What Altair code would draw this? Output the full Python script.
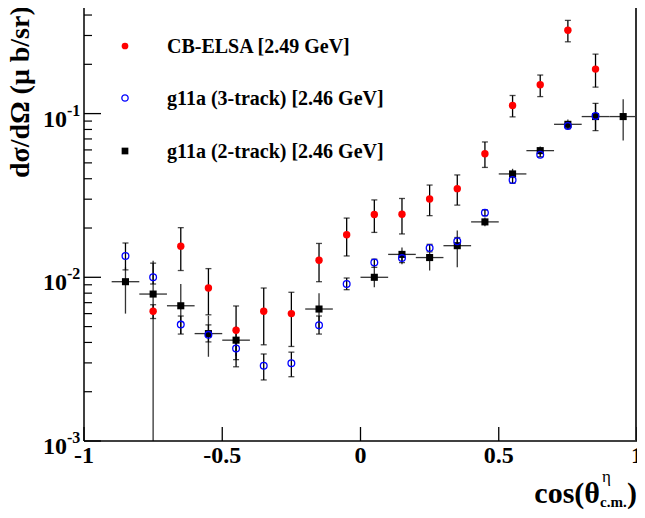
import altair as alt
import pandas as pd

# ---- data ----
x_cb = [-0.75, -0.65, -0.55, -0.45, -0.35, -0.25, -0.15, -0.05, 0.05, 0.15, 0.25, 0.35, 0.45, 0.55, 0.65, 0.75, 0.85]
y_cb = [0.0062, 0.0155, 0.0086, 0.00475, 0.0062, 0.0060, 0.0127, 0.0182, 0.0242, 0.0243, 0.0301, 0.0348, 0.0569, 0.112, 0.150, 0.323, 0.187]
lo_cb = [0.0056, 0.0110, 0.0059, 0.00284, 0.00387, 0.00378, 0.0094, 0.0135, 0.0188, 0.0184, 0.0238, 0.0276, 0.0469, 0.0955, 0.127, 0.2745, 0.145]
hi_cb = [0.0068, 0.0201, 0.0113, 0.00668, 0.0086, 0.0081, 0.0161, 0.0230, 0.0297, 0.0303, 0.0366, 0.0422, 0.0671, 0.129, 0.172, 0.371, 0.231]

x_3t = [-0.85, -0.75, -0.65, -0.55, -0.45, -0.35, -0.25, -0.15, -0.05, 0.05, 0.15, 0.25, 0.35, 0.45, 0.55, 0.65, 0.75, 0.85]
y_3t = [0.0135, 0.0100, 0.00514, 0.00445, 0.00367, 0.00288, 0.00299, 0.0051, 0.0091, 0.0123, 0.0131, 0.0151, 0.0166, 0.0248, 0.0393, 0.0561, 0.0841, 0.0968]
lo_3t = [0.0111, 0.0091, 0.0045, 0.00403, 0.00314, 0.00236, 0.00247, 0.0045, 0.0084, 0.0115, 0.0123, 0.0143, 0.0157, 0.0238, 0.0375, 0.0545, 0.0810, 0.0787]
hi_3t = [0.0162, 0.0122, 0.0058, 0.00512, 0.00409, 0.0034, 0.00349, 0.0058, 0.0099, 0.0129, 0.0139, 0.0159, 0.0175, 0.0258, 0.0411, 0.0577, 0.0872, 0.1156]

x_2t = [-0.85, -0.75, -0.65, -0.55, -0.45, -0.15, 0.05, 0.15, 0.25, 0.35, 0.45, 0.55, 0.65, 0.75, 0.85, 0.95]
y_2t = [0.0094, 0.0079, 0.0067, 0.00453, 0.00413, 0.0064, 0.0100, 0.0138, 0.0132, 0.0156, 0.0218, 0.0428, 0.0594, 0.0860, 0.0959, 0.0959]
lo_2t = [0.0060, 0.001, 0.0045, 0.00327, 0.0033, 0.0048, 0.0087, 0.0120, 0.0110, 0.0115, 0.0205, 0.0400, 0.0560, 0.0800, 0.0790, 0.0684]
hi_2t = [0.0115, 0.0126, 0.0091, 0.00582, 0.0050, 0.0080, 0.0118, 0.0152, 0.0152, 0.0193, 0.0232, 0.0460, 0.0630, 0.0920, 0.1150, 0.1223]
half_bin = 0.05

x_ticks = [-1, -0.5, 0, 0.5, 1]
x_tick_labels = ["-1", "-0.5", "0", "0.5", "1"]
y_major = [0.001, 0.01, 0.1]
y_major_exp = ["-3", "-2", "-1"]
y_minor = [0.002, 0.003, 0.004, 0.005, 0.006, 0.007, 0.008, 0.009,
           0.02, 0.03, 0.04, 0.05, 0.06, 0.07, 0.08, 0.09,
           0.2, 0.3, 0.4]

legend_labels = ["CB-ELSA [2.49 GeV]", "g11a (3-track) [2.46 GeV]", "g11a (2-track) [2.46 GeV]"]
y_title = "dσ/dΩ (μ b/sr)"

# ---- layout ----
W, H = 553, 433
FONT = "Liberation Serif"

xs = alt.Scale(domain=[-1, 1], nice=False, zero=False)
ys = alt.Scale(type="log", domain=[0.001, 0.4416], nice=False, clamp=True)

cb = pd.DataFrame({"x": x_cb, "y": y_cb, "lo": lo_cb, "hi": hi_cb})
t3 = pd.DataFrame({"x": x_3t, "y": y_3t, "lo": lo_3t, "hi": hi_3t})
t2 = pd.DataFrame({"x": x_2t, "y": y_2t, "lo": lo_2t, "hi": hi_2t})
t2["xl"] = t2["x"] - half_bin
t2["xr"] = t2["x"] + half_bin

one = pd.DataFrame({"a": [0]})

X = lambda f: alt.X(f, scale=xs, axis=None)
Y = lambda f: alt.Y(f, scale=ys, axis=None)

layers = []

# 2-track error bars (no caps)
layers.append(alt.Chart(t2).mark_rule(color="#333333", strokeWidth=1.3).encode(
    x=X("x:Q"), y=Y("lo:Q"), y2="hi:Q"))
layers.append(alt.Chart(t2).mark_rule(color="#333333", strokeWidth=1.3).encode(
    x=X("xl:Q"), x2="xr:Q", y=Y("y:Q")))

# capped error bars
for df in (cb, t3):
    layers.append(alt.Chart(df).mark_errorbar(ticks={"size": 6}, color="black", thickness=1.3).encode(
        x=X("x:Q"), y=Y("lo:Q"), y2="hi:Q"))

# markers
layers.append(alt.Chart(cb).mark_point(shape="circle", filled=True, color="#ff0000", size=55, opacity=1).encode(
    x=X("x:Q"), y=Y("y:Q")))
layers.append(alt.Chart(t2).mark_point(shape="square", filled=True, color="black", size=50, opacity=1).encode(
    x=X("x:Q"), y=Y("y:Q")))
layers.append(alt.Chart(t3).mark_point(shape="circle", filled=False, color="#0000ff", size=45, strokeWidth=1.3, opacity=1).encode(
    x=X("x:Q"), y=Y("y:Q")))

# frame
layers.append(alt.Chart(one).mark_rule(color="black", strokeWidth=1.5).encode(
    x=alt.value(0), y=alt.value(0), y2=alt.value(H)))
layers.append(alt.Chart(one).mark_rule(color="black", strokeWidth=1.5).encode(
    x=alt.value(0), x2=alt.value(W), y=alt.value(H)))
layers.append(alt.Chart(one).mark_rule(color="#333333", strokeWidth=2).encode(
    x=alt.value(W - 1), y=alt.value(0), y2=alt.value(H)))

# inward ticks
ymaj = pd.DataFrame({"v": y_major, "e": y_major_exp})
ymin = pd.DataFrame({"v": y_minor})
xmaj = pd.DataFrame({"v": x_ticks, "t": x_tick_labels})
layers.append(alt.Chart(ymaj).mark_rule(color="black", strokeWidth=1.3).encode(
    y=Y("v:Q"), x=alt.value(0), x2=alt.value(17)))
layers.append(alt.Chart(ymin).mark_rule(color="black", strokeWidth=1.2).encode(
    y=Y("v:Q"), x=alt.value(0), x2=alt.value(8)))
layers.append(alt.Chart(xmaj).mark_rule(color="black", strokeWidth=1.3).encode(
    x=X("v:Q"), y=alt.value(H - 14), y2=alt.value(H)))

# tick labels
layers.append(alt.Chart(xmaj).mark_text(font=FONT, fontWeight="bold", fontSize=24, align="center",
                                        baseline="alphabetic", color="black").encode(
    x=X("v:Q"), y=alt.value(H + 22), text="t:N"))
layers.append(alt.Chart(ymaj).mark_text(font=FONT, fontWeight="bold", fontSize=24, align="right",
                                        baseline="alphabetic", dx=-17, dy=13, color="black").encode(
    y=Y("v:Q"), x=alt.value(0), text=alt.value("10")))
layers.append(alt.Chart(ymaj).mark_text(font=FONT, fontWeight="bold", fontSize=16, align="left",
                                        baseline="alphabetic", dx=-17, dy=2, color="black").encode(
    y=Y("v:Q"), x=alt.value(0), text="e:N"))

# axis titles
layers.append(alt.Chart(one).mark_text(font=FONT, fontWeight="bold", fontSize=28, angle=270, align="left",
                                       baseline="middle", color="black", text=y_title).encode(
    x=alt.value(-63), y=alt.value(170)))
layers.append(alt.Chart(one).mark_text(font=FONT, fontWeight="bold", fontSize=30, align="right",
                                       baseline="alphabetic", color="black", text="cos(θ").encode(
    x=alt.value(516), y=alt.value(495)))
layers.append(alt.Chart(one).mark_text(font=FONT, fontSize=17, align="left",
                                       baseline="alphabetic", color="black", text="η").encode(
    x=alt.value(518), y=alt.value(474)))
layers.append(alt.Chart(one).mark_text(font=FONT, fontWeight="bold", fontSize=15, align="left",
                                       baseline="alphabetic", color="black", text="c.m.").encode(
    x=alt.value(516), y=alt.value(499)))
layers.append(alt.Chart(one).mark_text(font=FONT, fontWeight="bold", fontSize=30, align="left",
                                       baseline="alphabetic", color="black", text=")").encode(
    x=alt.value(543), y=alt.value(495)))

# legend
leg_y = [38, 90, 143]
layers.append(alt.Chart(one).mark_point(shape="circle", filled=True, color="#ff0000", size=45, opacity=1).encode(
    x=alt.value(41), y=alt.value(leg_y[0])))
layers.append(alt.Chart(one).mark_point(shape="circle", filled=False, color="#0000ff", size=40, strokeWidth=1.3, opacity=1).encode(
    x=alt.value(41), y=alt.value(leg_y[1])))
layers.append(alt.Chart(one).mark_point(shape="square", filled=True, color="black", size=45, opacity=1).encode(
    x=alt.value(41), y=alt.value(leg_y[2])))
for lbl, yy in zip(legend_labels, leg_y):
    layers.append(alt.Chart(one).mark_text(font=FONT, fontWeight="bold", fontSize=20, align="left",
                                           baseline="alphabetic", color="black", text=lbl).encode(
        x=alt.value(83), y=alt.value(yy + 7)))

chart = alt.layer(*layers).properties(
    width=W, height=H,
    autosize=alt.AutoSizeParams(type="none"),
    padding={"left": 76, "top": 0, "right": 0, "bottom": 69},
    background="white",
).configure_view(stroke=None)

chart.save("out.html", embed_options={"renderer": "svg", "actions": False})
